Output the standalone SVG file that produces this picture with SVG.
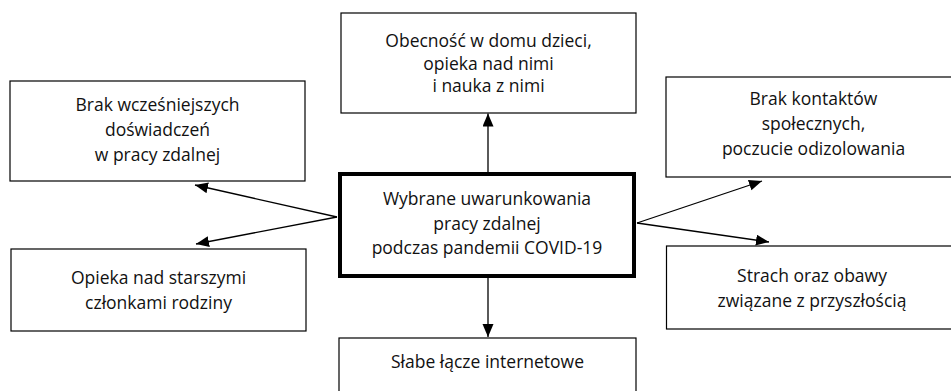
<svg xmlns="http://www.w3.org/2000/svg" width="951" height="391" viewBox="0 0 951 391">
<style>
.box{fill:#fff;stroke:#000;stroke-width:1.2}
.main{fill:#fff;stroke:#000;stroke-width:4}
text{font-family:"Open Sans","Liberation Sans",sans-serif;font-size:17.5px;fill:#111;text-anchor:middle}
.con{stroke:#000;stroke-width:1.3;fill:none}
</style>
<defs>
<marker id="ah" markerUnits="userSpaceOnUse" markerWidth="14" markerHeight="12" refX="13" refY="5.5" orient="auto">
<path d="M0,0 L13,5.5 L0,11 z" fill="#000"/>
</marker>
</defs>
<rect width="951" height="391" fill="#fff"/>
<g id="connectors">
<line class="con" x1="488" y1="172" x2="488" y2="113.5" marker-end="url(#ah)"/>
<line class="con" x1="488" y1="278" x2="488" y2="337" marker-end="url(#ah)"/>
<line class="con" x1="337" y1="217" x2="195" y2="185" marker-end="url(#ah)"/>
<line class="con" x1="337" y1="217" x2="196" y2="244" marker-end="url(#ah)"/>
<line class="con" x1="637" y1="223" x2="762" y2="181" marker-end="url(#ah)"/>
<line class="con" x1="637" y1="223" x2="769" y2="242" marker-end="url(#ah)"/>
</g>
<g id="center">
<rect class="main" x="340" y="174" width="294" height="102"/>
<text x="487" y="205">Wybrane uwarunkowania</text>
<text x="487" y="229.5">pracy zdalnej</text>
<text x="487" y="254">podczas pandemii COVID-19</text>
</g>
<g id="top">
<rect class="box" x="341" y="13" width="295" height="100"/>
<text x="488.5" y="47">Obecność w domu dzieci,</text>
<text x="488.5" y="69.5">opieka nad nimi</text>
<text x="488.5" y="92">i nauka z nimi</text>
</g>
<g id="left-top">
<rect class="box" x="10" y="81" width="295" height="100"/>
<text x="157.5" y="111">Brak wcześniejszych</text>
<text x="157.5" y="135.5">doświadczeń</text>
<text x="157.5" y="160.5">w pracy zdalnej</text>
</g>
<g id="left-bottom">
<rect class="box" x="11" y="249" width="295" height="82"/>
<text x="158.5" y="284">Opieka nad starszymi</text>
<text x="158.5" y="309">członkami rodziny</text>
</g>
<g id="right-top">
<rect class="box" x="666" y="77" width="300" height="100"/>
<text x="813.5" y="105">Brak kontaktów</text>
<text x="813.5" y="129.5">społecznych,</text>
<text x="813.5" y="155">poczucie odizolowania</text>
</g>
<g id="right-bottom">
<rect class="box" x="666.5" y="246" width="300" height="83"/>
<text x="812" y="281.5">Strach oraz obawy</text>
<text x="812" y="306.5">związane z przyszłością</text>
</g>
<g id="bottom">
<rect class="box" x="339" y="338" width="297" height="70"/>
<text x="487.5" y="368">Słabe łącze internetowe</text>
</g>
</svg>
